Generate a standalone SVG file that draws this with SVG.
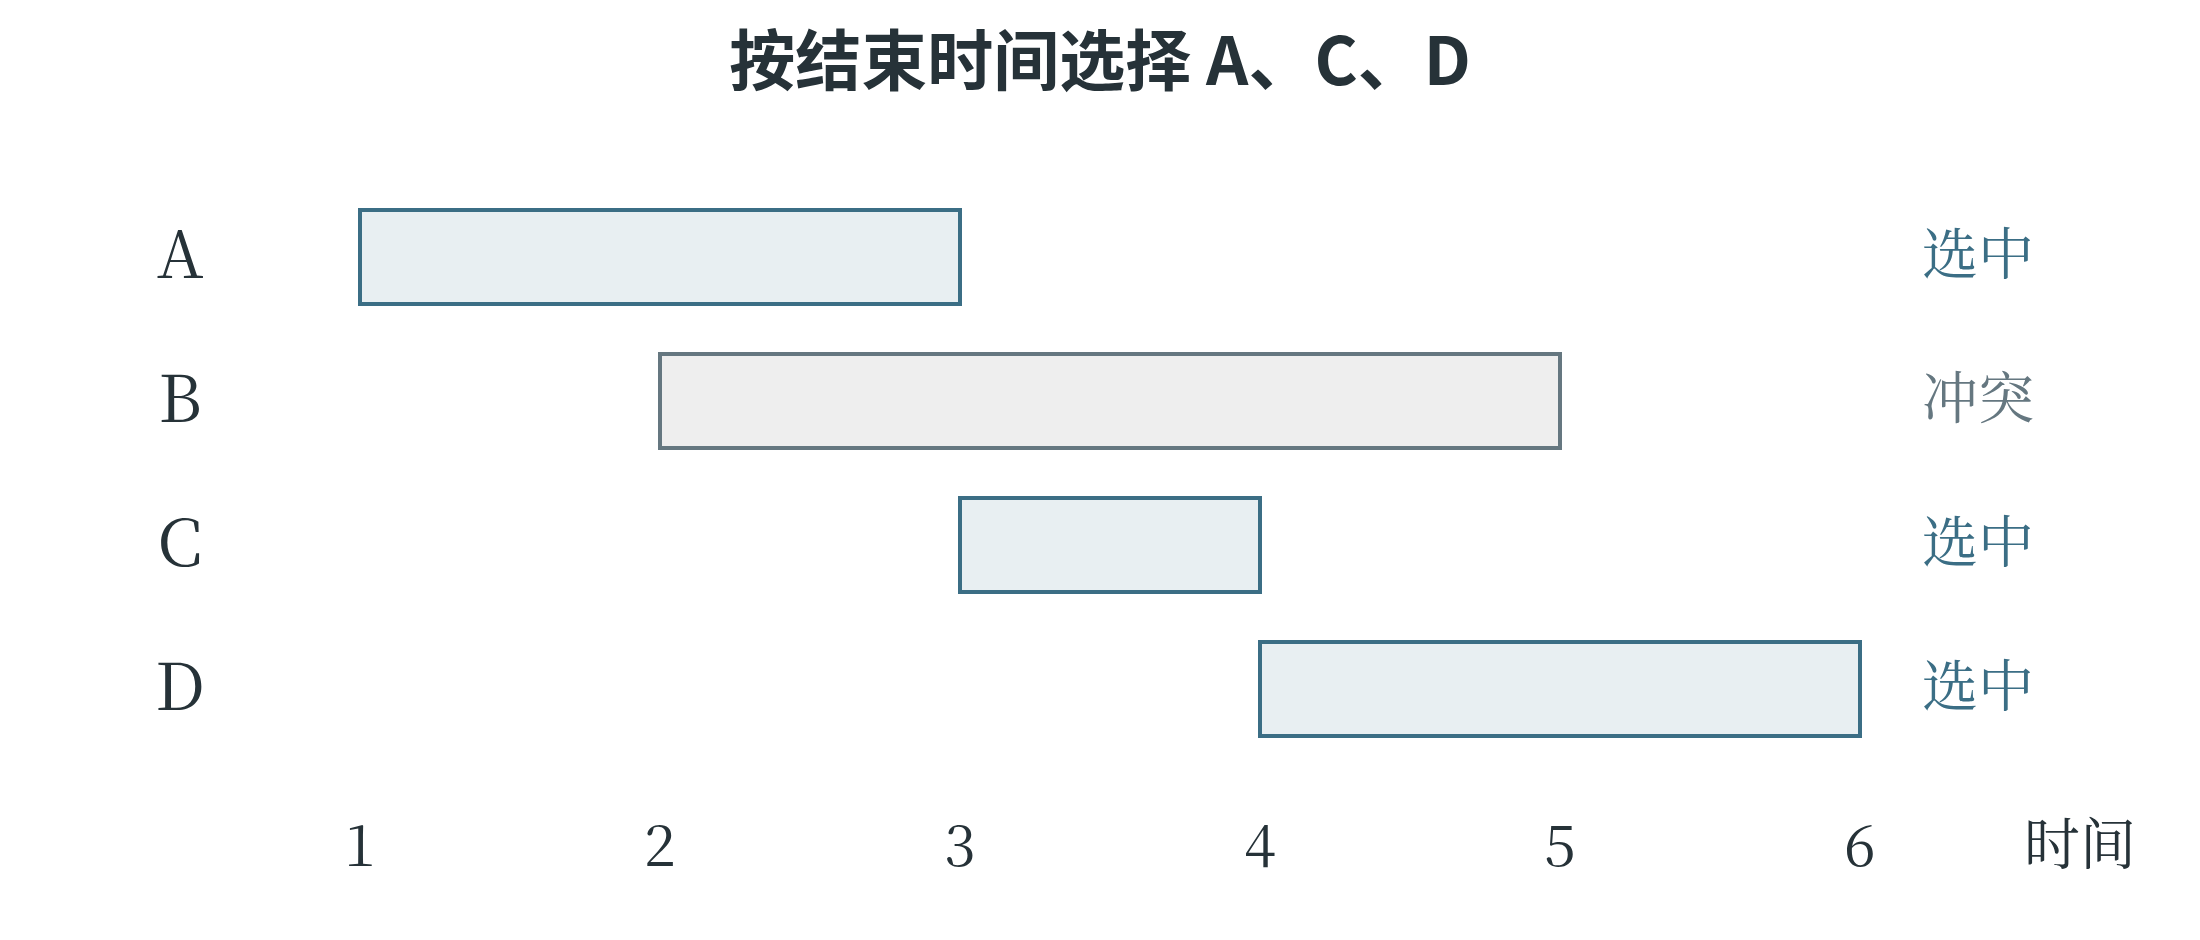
<svg xmlns="http://www.w3.org/2000/svg" width="2200" height="940" viewBox="0 0 2200 940">
<style>
.title{font-family:"Noto Sans CJK SC","Noto Sans",sans-serif;font-weight:700;font-size:66px;fill:#263238}
.lbl{font-family:"Noto Serif CJK SC","Liberation Serif","Noto Sans CJK SC",serif;font-size:65px;fill:#263238;text-anchor:middle}
.num{font-family:"Noto Serif CJK SC","Liberation Serif","Noto Sans CJK SC",serif;font-size:57px;fill:#263238;text-anchor:middle}
.st{font-family:"Noto Serif CJK SC","Liberation Serif","Noto Sans CJK SC",serif;font-size:56px}
.sel{fill:#e8eff2;stroke:#3b6e85;stroke-width:4}
.con{fill:#eeeeee;stroke:#657780;stroke-width:4}
.tsel{fill:#3b6e85}
.tcon{fill:#657780}
</style>
<text class="title" x="1100" y="85" text-anchor="middle">按结束时间选择 A、C、D</text>
<g id="A">
<text class="lbl" x="180" y="278">A</text>
<rect class="sel" x="360" y="210" width="600" height="94"/>
<text class="st tsel" x="1922" y="274">选中</text>
</g>
<g id="B">
<text class="lbl" x="180" y="422">B</text>
<rect class="con" x="660" y="354" width="900" height="94"/>
<text class="st tcon" x="1922" y="418">冲突</text>
</g>
<g id="C">
<text class="lbl" x="180" y="566">C</text>
<rect class="sel" x="960" y="498" width="300" height="94"/>
<text class="st tsel" x="1922" y="562">选中</text>
</g>
<g id="D">
<text class="lbl" x="180" y="710">D</text>
<rect class="sel" x="1260" y="642" width="600" height="94"/>
<text class="st tsel" x="1922" y="706">选中</text>
</g>
<g id="axis">
<text class="num" x="360" y="866">1</text>
<text class="num" x="660" y="866">2</text>
<text class="num" x="960" y="866">3</text>
<text class="num" x="1260" y="866">4</text>
<text class="num" x="1560" y="866">5</text>
<text class="num" x="1860" y="866">6</text>
<text class="st" x="2080" y="864" text-anchor="middle" fill="#263238">时间</text>
</g>
<g id="connectors"/>
</svg>
